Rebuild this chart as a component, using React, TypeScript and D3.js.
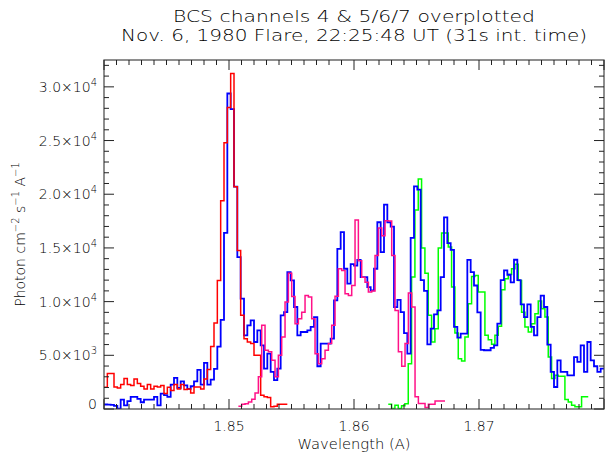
import React from 'react';
import * as d3 from 'd3';

// BCS spectra, counts per bin (photon cm^-2 s^-1 A^-1), uniform bins
const binWidth = 0.04 / 150;

const blueStart = 1.84;
const blueCounts = [
  420, 400, 380, 300, 30, 880, 330, 725, 1130, 1130,
  940, 630, 880, 880, 880, 1130, 330, 1440, 1300, 1130,
  2270, 2890, 1960, 2580, 2200, 1870, 2120, 2580, 3650, 2270,
  4290, 2270, 2740, 3730, 5800, 8300, 16400, 29380, 27920, 20700,
  14140, 10270, 6860, 7790, 8250, 6240, 7330, 5930, 3760, 5160,
  3450, 2680, 3760, 8720, 9030, 12750, 11970, 9500, 6860, 7170,
  7170, 7330, 7640, 8560, 3980, 6090, 6090, 6090, 6550, 10120,
  14910, 16470, 13060, 11670, 13500, 13360, 13890, 12280, 12280, 11350,
  11040, 13060, 17390, 14600, 19030, 17390, 16990, 9490, 10170, 9020,
  7070, 5150, 15930, 20730, 20420, 12000, 11000, 6020, 7480, 8810,
  9180, 12280, 17850, 15440, 14820, 7640, 6650, 7020, 7020, 13890,
  12740, 11500, 9000, 5500, 5470, 5470, 5700, 5930, 7950, 12000,
  12900, 12500, 11800, 13900, 12000, 9740, 8560, 9740, 7640, 6860,
  8560, 10550, 9500, 6000, 3450, 2050, 4530, 3450, 3450, 3140,
  3140, 4840, 4380, 5930, 3450, 6240, 4530, 3980, 3450, 3760,
];

const redStart = 1.84;
const redCounts = [
  2026, 3300, 3300, 2060, 1960, 2270, 2830, 2270, 2180, 2800,
  2370, 2120, 1870, 2270, 1870, 2120, 2060, 2180, 1440, 2030,
  1720, 2270, 1870, 2270, 1810, 1870, 1500, 2060, 2060, 1870,
  2800, 3670, 5830, 8000, 11970, 19400, 24800, 28080, 31240, 20700,
  14760, 8720, 6550, 6240, 6100, 5000, 5000, 1280, 1130, 1080,
  200, 260, 450, 450, 450,
];

const pinkStart = 1.85075;
const pinkCounts = [
  260, 440, 500, 660, 900, 1500, 3000, 7790, 5470, 5320,
  4530, 3000, 5000, 6700, 9960, 12640, 10480, 7940, 8410, 9000,
  10560, 10420, 8410, 5150, 4220, 4690, 5460, 6090, 7790, 10500,
  13060, 12900, 10730, 10560, 11500, 17600, 13800, 12280, 11800, 10890,
  11000, 14300, 16860, 16140, 17540, 17500, 14290, 9180, 5320, 3980,
  6090, 10800, 9500, 1130, 510, 510, 140, 440, 440, 750,
  750, 750,
];

const greenStart = 1.86274;
const greenCounts = [
  450, 50, 350, 50, 300, 500, 4220, 12300, 18540, 21420,
  15000, 12650, 8720, 6240, 7480, 15000, 16390, 16390, 15080, 11350,
  7080, 4690, 4470, 6710, 9810, 12340, 12430, 10890, 10890, 6860,
  6460, 6020, 6860, 7700, 11100, 12120, 12530, 13060, 13470, 11970,
  9000, 7640, 7170, 7950, 8870, 10050, 9340, 8560, 4840, 2830,
  3140, 3050, 3050, 880, 660, 350, 200, 200, 1130, 1130,
];

const titleLines = [
  'BCS channels 4 & 5/6/7 overplotted',
  'Nov. 6, 1980 Flare, 22:25:48 UT (31s int. time)',
];
const xLabelTicks = [1.85, 1.86, 1.87];
const yLabelTicks = [0, 5000, 10000, 15000, 20000, 25000, 30000];

const font = 'DejaVu Sans, Verdana, sans-serif';

const stepPoints = (start: number, counts: number[]): [number, number][] => {
  const pts: [number, number][] = counts.map((c, i) => [start + i * binWidth, c]);
  pts.push([start + counts.length * binWidth, counts[counts.length - 1]]);
  return pts;
};

const App = () => {
  const margin = { top: 60, right: 4, bottom: 47, left: 104 };
  const width = 608;
  const height = 456;

  const x = d3.scaleLinear().domain([1.84, 1.88]).range([margin.left, width - margin.right]);
  const y = d3.scaleLinear().domain([0, 32500]).range([height - margin.bottom, margin.top]);

  const line = d3
    .line<[number, number]>()
    .x(d => x(d[0]))
    .y(d => y(d[1]))
    .curve(d3.curveStepAfter);

  const series = [
    { key: 'green', color: '#00ff00', width: 1.5, pts: stepPoints(greenStart, greenCounts) },
    { key: 'blue', color: '#0000ff', width: 1.8, pts: stepPoints(blueStart, blueCounts) },
    { key: 'red', color: '#ff0000', width: 1.5, pts: stepPoints(redStart, redCounts) },
    { key: 'pink', color: '#ff1188', width: 1.5, pts: stepPoints(pinkStart, pinkCounts) },
  ];

  const [x0, x1] = x.range();
  const [yb, yt] = y.range();

  const xTicks = d3.range(1840, 1881).map(i => i / 1000);
  const yTicks = d3.range(0, 32501, 1000);

  const fmtY = (v: number) => {
    if (v === 0) return null;
    const exp = Math.floor(Math.log10(v));
    return { mant: (v / Math.pow(10, exp)).toFixed(1), exp };
  };

  const textColor = '#000';

  return (
    <svg
      width={width}
      height={height}
      style={{ position: 'absolute', left: 0, top: 0, background: '#fff' }}
      fontFamily={font}
      fontWeight={200}
    >
      <defs>
        <clipPath id="plot-clip">
          <rect x={x0} y={yt} width={x1 - x0} height={yb - yt} />
        </clipPath>
      </defs>
      <rect width={width} height={height} fill="#fff" />

      {/* title */}
      {titleLines.map((t, i) => (
        <text
          key={t}
          x={(x0 + x1) / 2}
          y={22 + i * 18.5}
          textAnchor="middle"
          fontSize={15}
          textLength={i === 0 ? 362 : 466}
          lengthAdjust="spacingAndGlyphs"
          fill={textColor}
        >
          {t}
        </text>
      ))}

      {/* spectra */}
      <g clipPath="url(#plot-clip)">
        {series.map(s => (
          <path
            key={s.key}
            d={line(s.pts) || ''}
            fill="none"
            stroke={s.color}
            strokeWidth={s.width}
            strokeLinejoin="miter"
          />
        ))}
      </g>

      {/* frame */}
      <rect x={x0} y={yt} width={x1 - x0} height={yb - yt} fill="none" stroke="#444" strokeWidth={1.2} />

      {/* x ticks, bottom and top */}
      {xTicks.map((t, i) => {
        const major = Math.round(t * 1000) % 10 === 0;
        const len = major ? 10 : 5;
        const px = x(t);
        return (
          <g key={'xt' + i} stroke="#222" strokeWidth={1}>
            <line x1={px} x2={px} y1={yb} y2={yb - len} />
            <line x1={px} x2={px} y1={yt} y2={yt + len} />
          </g>
        );
      })}
      {xLabelTicks.map(t => (
        <text key={'xl' + t} x={x(t)} y={431} textAnchor="middle" fontSize={14} fill={textColor}>
          {t.toFixed(2)}
        </text>
      ))}
      <text
        x={(x0 + x1) / 2}
        y={448.5}
        textAnchor="middle"
        fontSize={14}
        textLength={113}
        lengthAdjust="spacingAndGlyphs"
        fill={textColor}
      >
        Wavelength (A)
      </text>

      {/* y ticks, left and right */}
      {yTicks.map((t, i) => {
        const major = t % 5000 === 0;
        const len = major ? 10 : 5;
        const py = y(t);
        return (
          <g key={'yt' + i} stroke="#222" strokeWidth={1}>
            <line x1={x0} x2={x0 + len} y1={py} y2={py} />
            <line x1={x1} x2={x1 - len} y1={py} y2={py} />
          </g>
        );
      })}
      {yLabelTicks.map(t => {
        const f = fmtY(t);
        if (!f) {
          return (
            <text key="yl0" x={97} y={y(t)} textAnchor="end" fontSize={14} fill={textColor}>
              0
            </text>
          );
        }
        return (
          <text key={'yl' + t} x={97} y={y(t) + 5} textAnchor="end" fontSize={14} fill={textColor}>
            {f.mant}×10
            <tspan fontSize={10} dy={-6}>
              {f.exp}
            </tspan>
          </text>
        );
      })}
      <text
        transform={`translate(25,${(yt + yb) / 2}) rotate(-90)`}
        textAnchor="middle"
        fontSize={14}
        fill={textColor}
      >
        Photon cm
        <tspan fontSize={10} dy={-6}>−2</tspan>
        <tspan dy={6}> s</tspan>
        <tspan fontSize={10} dy={-6}>−1</tspan>
        <tspan dy={6}> A</tspan>
        <tspan fontSize={10} dy={-6}>−1</tspan>
      </text>
    </svg>
  );
};

export default App;
